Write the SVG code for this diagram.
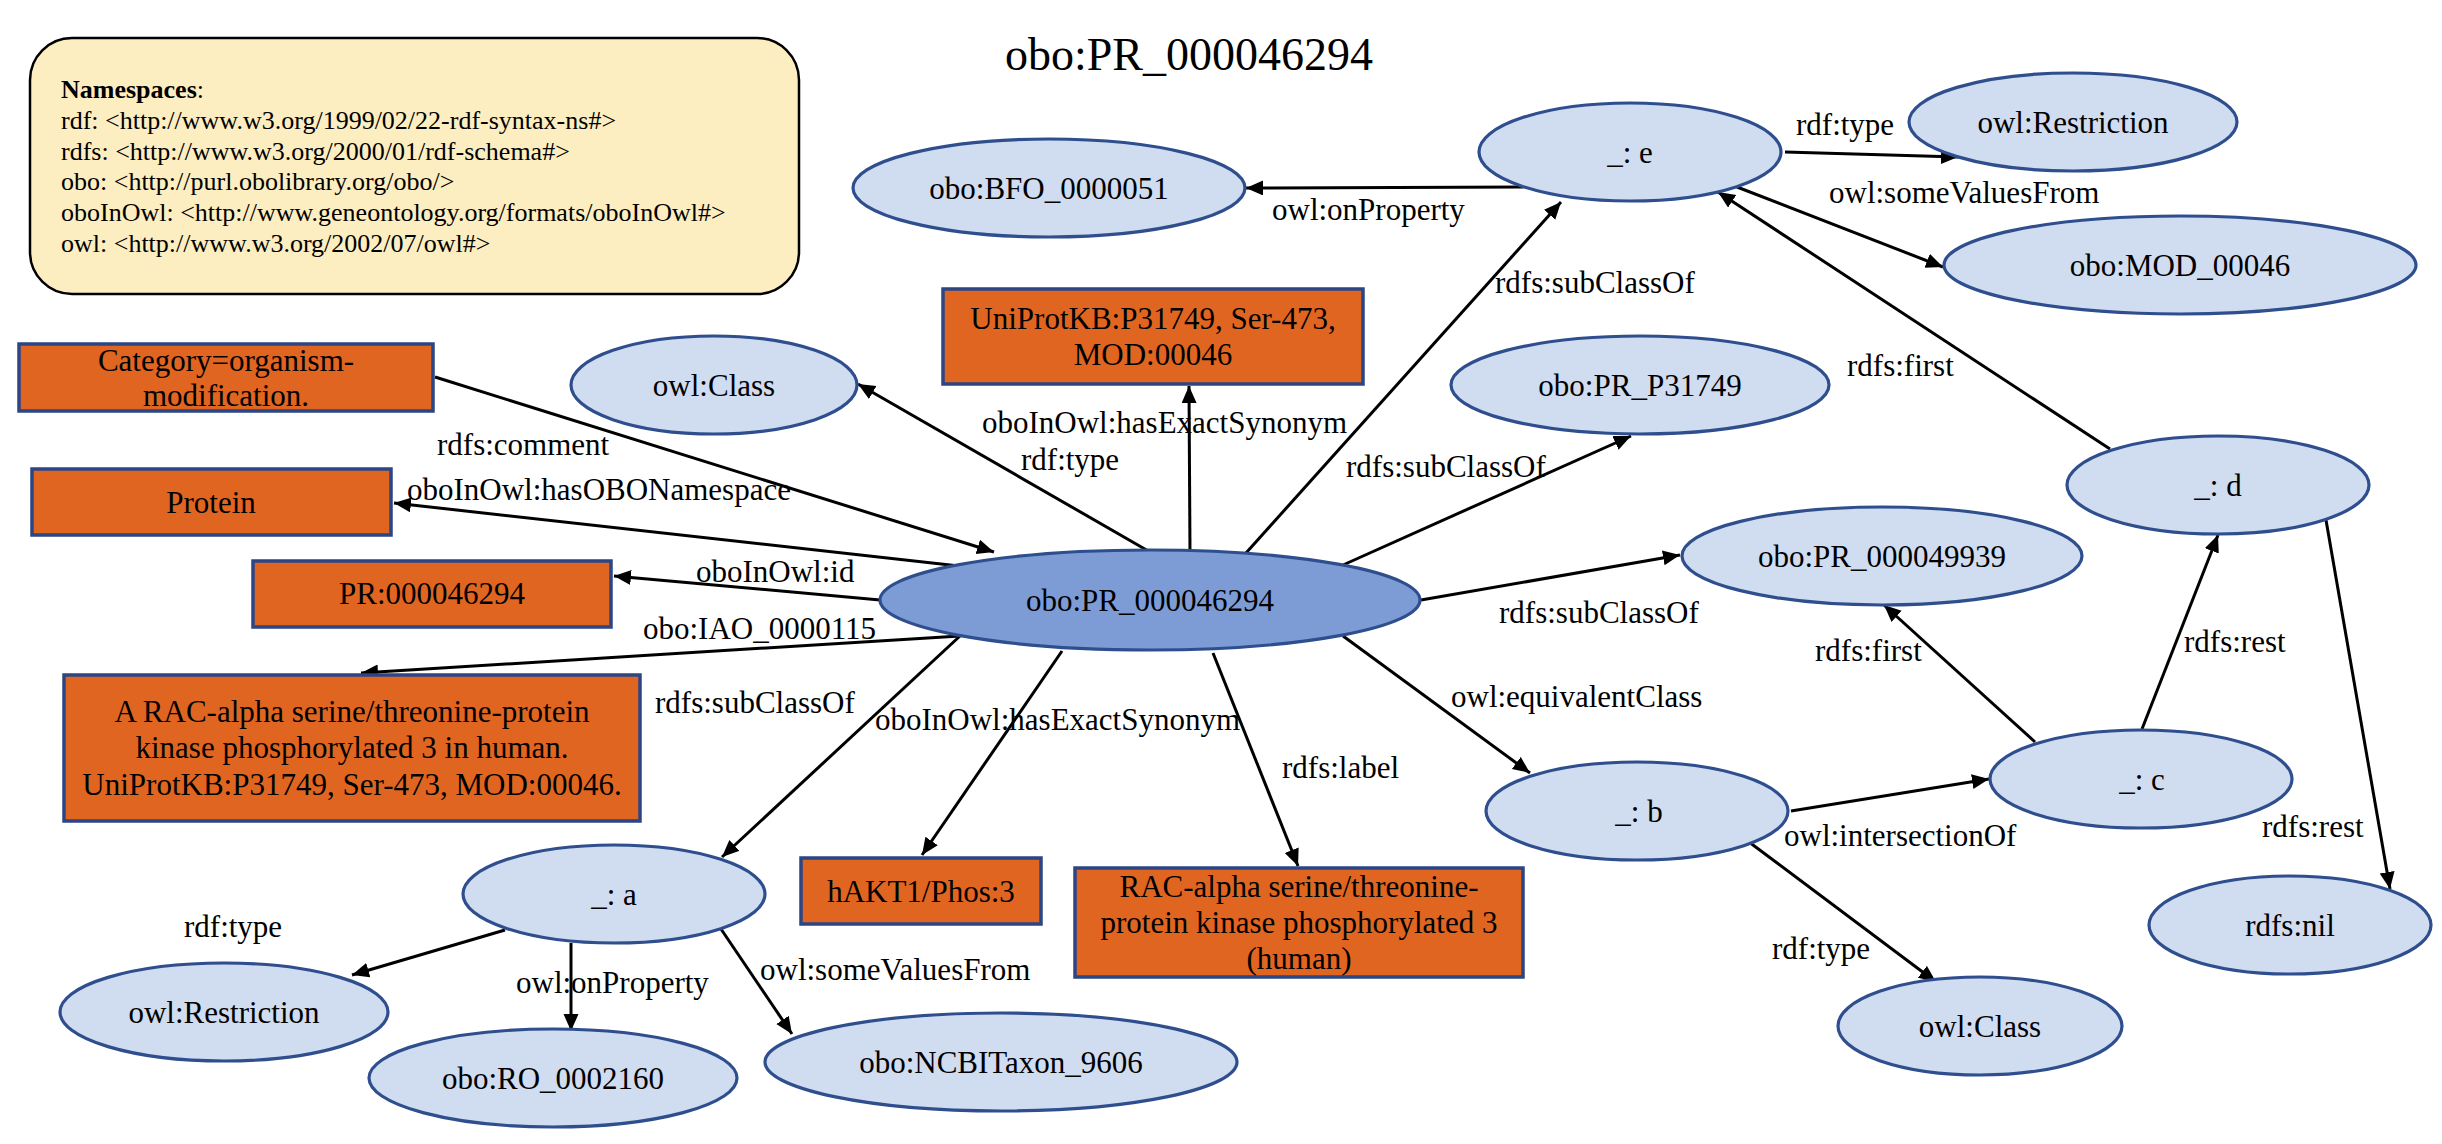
<svg xmlns="http://www.w3.org/2000/svg" width="2442" height="1144" viewBox="0 0 2442 1144">
<style>
text{font-family:"Liberation Serif","Times New Roman",serif;fill:#000}
.n{font-size:31px;text-anchor:middle}
.l{font-size:31px}
.ell{fill:#D0DCF0;stroke:#2F4E8E;stroke-width:3.2}
.main{fill:#7D9CD6;stroke:#2F4E8E;stroke-width:3.2}
.box{fill:#E06520;stroke:#2B4585;stroke-width:3.5}
.e{stroke:#000;stroke-width:3;fill:none;marker-end:url(#ah)}
.ns{font-size:26px}
</style>
<defs>
<marker id="ah" markerUnits="userSpaceOnUse" markerWidth="18" markerHeight="16" refX="17" refY="7.5" orient="auto">
<path d="M0,0 L17,7.5 L0,15 z" fill="#000"/>
</marker>
</defs>
<rect width="2442" height="1144" fill="#fff"/>

<g id="namespaces">
<rect x="30" y="38" width="769" height="256" rx="42" ry="42" fill="#FCEEC0" stroke="#000" stroke-width="2.5"/>
<text class="ns" x="61" y="98"><tspan font-weight="bold">Namespaces</tspan>:</text>
<text class="ns" x="61" y="129">rdf: &lt;http://www.w3.org/1999/02/22-rdf-syntax-ns#&gt;</text>
<text class="ns" x="61" y="160">rdfs: &lt;http://www.w3.org/2000/01/rdf-schema#&gt;</text>
<text class="ns" x="61" y="190">obo: &lt;http://purl.obolibrary.org/obo/&gt;</text>
<text class="ns" x="61" y="221">oboInOwl: &lt;http://www.geneontology.org/formats/oboInOwl#&gt;</text>
<text class="ns" x="61" y="252">owl: &lt;http://www.w3.org/2002/07/owl#&gt;</text>
</g>

<g id="title"><text x="1189" y="70" font-size="46" text-anchor="middle">obo:PR_000046294</text></g>

<g id="connectors">
<line class="e" x1="435" y1="377" x2="994" y2="552"/>
<line class="e" x1="959" y1="566" x2="394" y2="503"/>
<line class="e" x1="880" y1="600" x2="614" y2="576"/>
<line class="e" x1="960" y1="636" x2="361" y2="673"/>
<line class="e" x1="960" y1="636" x2="722" y2="857"/>
<line class="e" x1="1062" y1="651" x2="922" y2="855"/>
<line class="e" x1="1213" y1="653" x2="1298" y2="866"/>
<line class="e" x1="1343" y1="636" x2="1530" y2="773"/>
<line class="e" x1="1421" y1="600" x2="1680" y2="555"/>
<line class="e" x1="1343" y1="565" x2="1631" y2="436"/>
<line class="e" x1="1246" y1="553" x2="1561" y2="202"/>
<line class="e" x1="1190" y1="553" x2="1189" y2="386"/>
<line class="e" x1="1150" y1="552" x2="858" y2="384"/>
<line class="e" x1="1523" y1="187" x2="1246" y2="188"/>
<line class="e" x1="1785" y1="152" x2="1958" y2="157"/>
<line class="e" x1="1737" y1="187" x2="1943" y2="267"/>
<line class="e" x1="2110" y1="449" x2="1718" y2="192"/>
<line class="e" x1="2142" y1="729" x2="2218" y2="535"/>
<line class="e" x1="2326" y1="520" x2="2390" y2="889"/>
<line class="e" x1="2035" y1="742" x2="1884" y2="605"/>
<line class="e" x1="1791" y1="811" x2="1989" y2="779"/>
<line class="e" x1="1749" y1="842" x2="1936" y2="982"/>
<line class="e" x1="505" y1="930" x2="352" y2="975"/>
<line class="e" x1="571" y1="943" x2="571" y2="1031"/>
<line class="e" x1="721" y1="929" x2="792" y2="1034"/>
<text class="l" x="437" y="455">rdfs:comment</text>
<text class="l" x="407" y="500">oboInOwl:hasOBONamespace</text>
<text class="l" x="696" y="582">oboInOwl:id</text>
<text class="l" x="643" y="639">obo:IAO_0000115</text>
<text class="l" x="655" y="713">rdfs:subClassOf</text>
<text class="l" x="875" y="730">oboInOwl:hasExactSynonym</text>
<text class="l" x="1282" y="778">rdfs:label</text>
<text class="l" x="1451" y="707">owl:equivalentClass</text>
<text class="l" x="1499" y="623">rdfs:subClassOf</text>
<text class="l" x="1346" y="477">rdfs:subClassOf</text>
<text class="l" x="1495" y="293">rdfs:subClassOf</text>
<text class="l" x="982" y="433">oboInOwl:hasExactSynonym</text>
<text class="l" x="1021" y="470">rdf:type</text>
<text class="l" x="1272" y="220">owl:onProperty</text>
<text class="l" x="1796" y="135">rdf:type</text>
<text class="l" x="1829" y="203">owl:someValuesFrom</text>
<text class="l" x="1847" y="376">rdfs:first</text>
<text class="l" x="2184" y="652">rdfs:rest</text>
<text class="l" x="2262" y="837">rdfs:rest</text>
<text class="l" x="1815" y="661">rdfs:first</text>
<text class="l" x="1784" y="846">owl:intersectionOf</text>
<text class="l" x="1772" y="959">rdf:type</text>
<text class="l" x="184" y="937">rdf:type</text>
<text class="l" x="516" y="993">owl:onProperty</text>
<text class="l" x="760" y="980">owl:someValuesFrom</text>
</g>

<g id="PR_000046294"><ellipse class="main" cx="1150" cy="600" rx="270" ry="50"/><text class="n" x="1150" y="611">obo:PR_000046294</text></g>
<g id="BFO_0000051"><ellipse class="ell" cx="1049" cy="188" rx="196" ry="49"/><text class="n" x="1049" y="199">obo:BFO_0000051</text></g>
<g id="e"><ellipse class="ell" cx="1630" cy="152" rx="151" ry="49"/><text class="n" x="1630" y="163">_: e</text></g>
<g id="Restriction_top"><ellipse class="ell" cx="2073" cy="122" rx="164" ry="49"/><text class="n" x="2073" y="133">owl:Restriction</text></g>
<g id="MOD_00046"><ellipse class="ell" cx="2180" cy="265" rx="236" ry="49"/><text class="n" x="2180" y="276">obo:MOD_00046</text></g>
<g id="PR_P31749"><ellipse class="ell" cx="1640" cy="385" rx="189" ry="49"/><text class="n" x="1640" y="396">obo:PR_P31749</text></g>
<g id="Class_top"><ellipse class="ell" cx="714" cy="385" rx="143" ry="49"/><text class="n" x="714" y="396">owl:Class</text></g>
<g id="d"><ellipse class="ell" cx="2218" cy="485" rx="151" ry="49"/><text class="n" x="2218" y="496">_: d</text></g>
<g id="PR_000049939"><ellipse class="ell" cx="1882" cy="556" rx="200" ry="49"/><text class="n" x="1882" y="567">obo:PR_000049939</text></g>
<g id="b"><ellipse class="ell" cx="1637" cy="811" rx="151" ry="49"/><text class="n" x="1639" y="822">_: b</text></g>
<g id="c"><ellipse class="ell" cx="2141" cy="779" rx="151" ry="49"/><text class="n" x="2142" y="790">_: c</text></g>
<g id="nil"><ellipse class="ell" cx="2290" cy="925" rx="141" ry="49"/><text class="n" x="2290" y="936">rdfs:nil</text></g>
<g id="Class_bottom"><ellipse class="ell" cx="1980" cy="1026" rx="142" ry="49"/><text class="n" x="1980" y="1037">owl:Class</text></g>
<g id="a"><ellipse class="ell" cx="614" cy="894" rx="151" ry="49"/><text class="n" x="614" y="905">_: a</text></g>
<g id="Restriction_bottom"><ellipse class="ell" cx="224" cy="1012" rx="164" ry="49"/><text class="n" x="224" y="1023">owl:Restriction</text></g>
<g id="RO_0002160"><ellipse class="ell" cx="553" cy="1078" rx="184" ry="49"/><text class="n" x="553" y="1089">obo:RO_0002160</text></g>
<g id="NCBITaxon_9606"><ellipse class="ell" cx="1001" cy="1062" rx="236" ry="49"/><text class="n" x="1001" y="1073">obo:NCBITaxon_9606</text></g>

<g id="comment_box"><rect class="box" x="19" y="344" width="414" height="67"/><text class="n" x="226" y="371">Category=organism-</text><text class="n" x="226" y="406">modification.</text></g>
<g id="namespace_box"><rect class="box" x="32" y="469" width="359" height="66"/><text class="n" x="211" y="513">Protein</text></g>
<g id="id_box"><rect class="box" x="253" y="561" width="358" height="66"/><text class="n" x="432" y="604">PR:000046294</text></g>
<g id="definition_box"><rect class="box" x="64" y="675" width="576" height="146"/><text class="n" x="352" y="722">A RAC-alpha serine/threonine-protein</text><text class="n" x="352" y="758">kinase phosphorylated 3 in human.</text><text class="n" x="352" y="795">UniProtKB:P31749, Ser-473, MOD:00046.</text></g>
<g id="synonym_box_top"><rect class="box" x="943" y="289" width="420" height="95"/><text class="n" x="1153" y="329">UniProtKB:P31749, Ser-473,</text><text class="n" x="1153" y="365">MOD:00046</text></g>
<g id="synonym_box_bottom"><rect class="box" x="801" y="858" width="240" height="66"/><text class="n" x="921" y="902">hAKT1/Phos:3</text></g>
<g id="label_box"><rect class="box" x="1075" y="868" width="448" height="109"/><text class="n" x="1299" y="897">RAC-alpha serine/threonine-</text><text class="n" x="1299" y="933">protein kinase phosphorylated 3</text><text class="n" x="1299" y="969">(human)</text></g>
</svg>
